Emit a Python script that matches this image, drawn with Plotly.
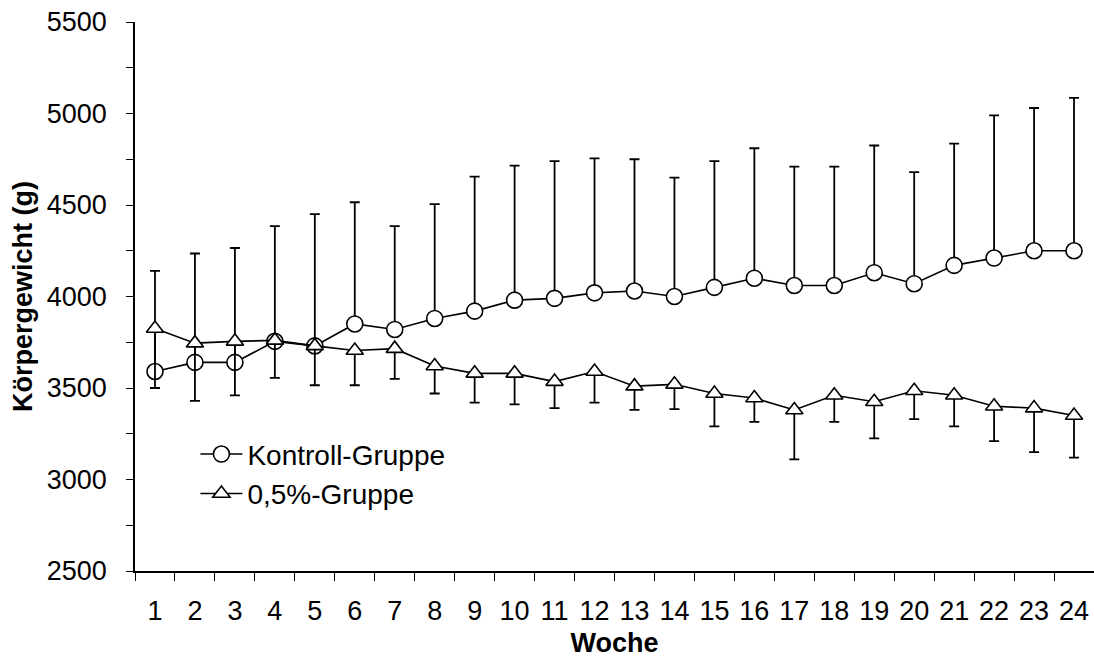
import plotly.graph_objects as go

# Wochen der Studie
wochen = list(range(1, 25))

# Kontroll-Gruppe: Mittelwert und Standardabweichung (g)
kontroll_mittel = [3590, 3640, 3640, 3755, 3730, 3850, 3820, 3880, 3920, 3980, 3990, 4020,
                   4030, 4000, 4050, 4100, 4060, 4060, 4130, 4070, 4170, 4210, 4250, 4250]
kontroll_sd = [550, 595, 625, 630, 720, 665, 565, 625, 735, 735, 750, 735,
               720, 650, 690, 710, 650, 650, 695, 610, 665, 780, 780, 835]

# 0,5%-Gruppe: Mittelwert und Standardabweichung (g)
gruppe_mittel = [3825, 3745, 3755, 3760, 3730, 3705, 3715, 3620, 3580, 3580, 3535, 3590,
                 3510, 3520, 3470, 3445, 3380, 3460, 3425, 3485, 3460, 3400, 3390, 3350]
gruppe_sd = [325, 315, 295, 205, 215, 190, 165, 150, 160, 170, 145, 170,
             130, 135, 180, 130, 270, 145, 200, 155, 170, 190, 240, 230]

FONT = "Arial, Liberation Sans, sans-serif"
FS = 27

fig = go.Figure()

# Kontroll-Gruppe: nur obere Fehlerbalken
fig.add_trace(go.Scatter(
    x=wochen, y=kontroll_mittel, name="Kontroll-Gruppe",
    mode="lines+markers", legendgroup="k",
    line=dict(color="black", width=1.6),
    marker=dict(symbol="circle", size=16, color="white",
                line=dict(color="black", width=1.6)),
    error_y=dict(type="data", symmetric=False, array=kontroll_sd,
                 arrayminus=[0] * len(kontroll_sd),
                 color="black", thickness=1.8, width=5),
))

# 0,5%-Gruppe: nur untere Fehlerbalken
fig.add_trace(go.Scatter(
    x=wochen, y=gruppe_mittel, name="0,5%-Gruppe",
    mode="lines+markers", legendgroup="g",
    line=dict(color="black", width=1.6),
    marker=dict(symbol="triangle-up", size=15, color="white",
                line=dict(color="black", width=1.6)),
    error_y=dict(type="data", symmetric=False, array=[0] * len(gruppe_sd),
                 arrayminus=gruppe_sd,
                 color="black", thickness=1.8, width=5),
))

fig.update_layout(
    width=1094, height=670,
    margin=dict(l=135, r=0, t=22, b=99),
    paper_bgcolor="white", plot_bgcolor="white",
    font=dict(family=FONT, size=FS, color="black"),
    showlegend=True,
    legend=dict(x=0.063, y=0.258, xanchor="left", yanchor="top",
                bgcolor="rgba(0,0,0,0)", borderwidth=0,
                font=dict(family=FONT, size=28, color="black"),
                itemwidth=42,
                tracegroupgap=6, traceorder="normal"),
    xaxis=dict(
        range=[0.5, 24.5], tickmode="array", tickvals=wochen,
        ticktext=[str(w) for w in wochen],
        ticks="outside", ticklen=15, tickcolor="rgba(0,0,0,0)",
        minor=dict(tick0=0.5, dtick=1, ticks="outside", ticklen=8,
                   tickcolor="black", tickwidth=1.2),
        showline=True, linecolor="black", linewidth=1.5,
        showgrid=False, zeroline=False,
        tickfont=dict(family=FONT, size=FS),
        title=dict(text="<b>Woche</b>", font=dict(family=FONT, size=FS),
                   standoff=8),
    ),
    yaxis=dict(
        range=[2500, 5500], tick0=2500, dtick=500,
        ticks="outside", ticklen=7, tickwidth=1.2, tickcolor="black",
        minor=dict(dtick=250, ticks="outside", ticklen=7,
                   tickcolor="black", tickwidth=1.2),
        showline=True, linecolor="black", linewidth=1.5,
        showgrid=False, zeroline=False,
        ticklabelstandoff=14,
        tickfont=dict(family=FONT, size=FS),
        title=dict(text="<b>Körpergewicht (g)</b>",
                   font=dict(family=FONT, size=FS), standoff=6),
    ),
)

fig.write_html("out.html")
